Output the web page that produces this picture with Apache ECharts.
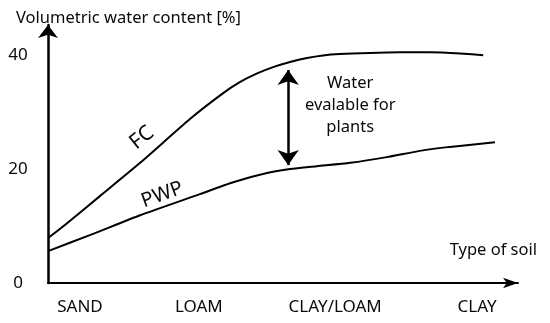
<!DOCTYPE html>
<html>
<head>
<meta charset="utf-8">
<script src="https://cdn.jsdelivr.net/npm/echarts@6/dist/echarts.min.js"></script>
<style>html,body{margin:0;padding:0;background:#fff}#c{width:550px;height:323px}</style>
</head>
<body>
<div id="c"></div>
<script>
// Soil types and their positions along the soil axis (0-100 scale)
var soilTypes = ['SAND', 'LOAM', 'CLAY/LOAM', 'CLAY'];
var soilPos = [6.8, 32.1, 61.1, 91.3];
var yTicks = [0, 20, 40];

// Field capacity (FC) curve: [soil position, volumetric water content %]
var fcX = [0, 3.6, 11.1, 19.6, 30.2, 37.2, 40.9, 44.5, 47.9, 51.5, 55.1, 58.5, 62.1, 68.5, 74.9, 81.3, 87.7, 92.6];
var fcY = [7.9, 10.2, 15.3, 21.1, 28.8, 33.3, 35.3, 36.8, 37.9, 38.8, 39.5, 39.95, 40.2, 40.4, 40.5, 40.5, 40.3, 40.0];

// Permanent wilting point (PWP) curve
var pwpX = [0, 8.9, 19.6, 32.3, 39.4, 46.6, 51.5, 57.2, 64.3, 72.1, 79.1, 85.5, 95.1];
var pwpY = [5.6, 8.4, 11.9, 15.6, 17.7, 19.3, 20.0, 20.5, 21.1, 22.1, 23.2, 23.9, 24.7];

// Available water arrow
var arrowX = 51.1;
var arrowTop = 37.4;
var arrowBottom = 20.7;

function zip(a, b) { return a.map(function (v, i) { return [v, b[i]]; }); }

var FONT = 'Noto Sans';
var INK = '#0a0a0a';
var chart = echarts.init(document.getElementById('c'), null, {renderer: 'canvas'});
chart.setOption({
  animation: false,
  backgroundColor: '#fff',
  title: [
    {text: 'Volumetric water content [%]', left: 11, top: 5,
     textStyle: {fontFamily: FONT, fontSize: 16.5, fontWeight: 'normal', color: INK}},
    {text: 'Type of soil', right: 8, top: 237,
     textStyle: {fontFamily: FONT, fontSize: 16.5, fontWeight: 'normal', color: INK}}
  ],
  grid: {left: 48, right: 32, top: 25, bottom: 40},
  xAxis: {
    type: 'value', min: 0, max: 100,
    axisLine: {show: true, symbol: ['none', 'arrow'], symbolSize: [8, 15],
      lineStyle: {color: '#000', width: 2}},
    axisTick: {show: false},
    splitLine: {show: false},
    axisLabel: {
      customValues: soilPos, margin: 16,
      fontFamily: FONT, fontSize: 17, color: INK,
      formatter: function (v) {
        var i = soilPos.indexOf(v);
        return i >= 0 ? soilTypes[i] : '';
      }
    }
  },
  yAxis: {
    type: 'value', min: 0, max: 45.3,
    axisLine: {show: true, symbol: ['none', 'arrow'], symbolSize: [15, 13],
      lineStyle: {color: '#000', width: 2.5}},
    axisTick: {show: false},
    splitLine: {show: false},
    axisLabel: {customValues: yTicks, margin: 30, align: 'center',
      fontFamily: FONT, fontSize: 17, color: INK}
  },
  series: [
    {
      name: 'FC', type: 'line', data: zip(fcX, fcY), smooth: 0.2, symbol: 'none',
      lineStyle: {color: '#000', width: 2},
      markLine: {
        silent: true, symbol: ['arrow', 'arrow'], symbolSize: [16, 15],
        label: {show: false},
        lineStyle: {color: '#000', width: 2.5, type: 'solid'},
        data: [[{coord: [arrowX, arrowTop]}, {coord: [arrowX, arrowBottom]}]]
      },
      markPoint: {
        silent: true, symbol: 'circle', symbolSize: 1,
        itemStyle: {color: 'rgba(0,0,0,0)'},
        data: [
          {coord: [20.0, 25.5], label: {show: true, position: 'inside', formatter: 'FC', rotate: 39,
            fontFamily: FONT, fontSize: 21, color: INK}},
          {coord: [64.3, 31.2], label: {show: true, position: 'inside',
            formatter: 'Water\nevalable for\nplants', lineHeight: 22, align: 'center',
            fontFamily: FONT, fontSize: 16.5, color: INK}}
        ]
      }
    },
    {
      name: 'PWP', type: 'line', data: zip(pwpX, pwpY), smooth: 0.2, symbol: 'none',
      lineStyle: {color: '#000', width: 2},
      markPoint: {
        silent: true, symbol: 'circle', symbolSize: 1,
        itemStyle: {color: 'rgba(0,0,0,0)'},
        data: [
          {coord: [24.3, 15.5], label: {show: true, position: 'inside', formatter: 'PWP', rotate: 20,
            fontFamily: FONT, fontSize: 20, color: INK}}
        ]
      }
    }
  ]
});
</script>
</body>
</html>
